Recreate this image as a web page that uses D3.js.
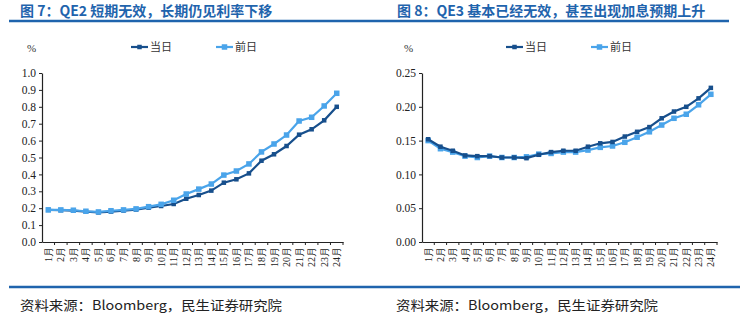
<!DOCTYPE html>
<html><head><meta charset="utf-8">
<script src="https://cdn.jsdelivr.net/npm/d3@7"></script>
<style>body{margin:0;background:#fff}svg{display:block}</style>
</head><body>
<script>
const months = ["1月","2月","3月","4月","5月","6月","7月","8月","9月","10月","11月","12月","13月","14月","15月","16月","17月","18月","19月","20月","21月","22月","23月","24月"];
const seriesNames = ["当日","前日"];
// Figure 7 (QE2)
const qe2Today = [0.19,0.188,0.186,0.18,0.175,0.18,0.186,0.192,0.203,0.213,0.225,0.256,0.278,0.304,0.351,0.371,0.406,0.481,0.519,0.568,0.635,0.667,0.72,0.80];
const qe2Prev  = [0.19,0.19,0.188,0.182,0.178,0.185,0.19,0.196,0.209,0.223,0.247,0.284,0.313,0.343,0.396,0.42,0.462,0.533,0.58,0.633,0.716,0.738,0.805,0.88];
const qe2Ticks = [0,0.1,0.2,0.3,0.4,0.5,0.6,0.7,0.8,0.9,1.0];
// Figure 8 (QE3)
const qe3Today = [0.152,0.141,0.135,0.128,0.127,0.127,0.125,0.125,0.124,0.129,0.133,0.135,0.135,0.141,0.146,0.148,0.156,0.163,0.170,0.183,0.193,0.200,0.2125,0.228];
const qe3Prev  = [0.150,0.138,0.133,0.127,0.125,0.127,0.125,0.125,0.126,0.130,0.131,0.133,0.133,0.136,0.140,0.142,0.1475,0.155,0.163,0.173,0.183,0.189,0.203,0.2185];
const qe3Ticks = [0,0.05,0.10,0.15,0.20,0.25];
const titles = ["图 7：QE2 短期无效，长期仍见利率下移","图 8：QE3 基本已经无效，甚至出现加息预期上升"];
const sourceText = "资料来源：Bloomberg，民生证券研究院";

const W = 745, H = 321;
const svg = d3.select("body").append("svg").attr("width", W).attr("height", H);
const blue = "#1f64ad", dark = "#174f8c", light = "#4aa4ea";
const serif = "'Liberation Serif','Times New Roman',serif";
const cjk = "'Noto Sans CJK SC',sans-serif";

function panel(cfg) {
  const g = svg.append("g");
  // title
  g.append("text").attr("x", cfg.titleX).attr("y", 16).text(cfg.title)
    .attr("font-family", cjk).attr("font-weight", "bold").attr("font-size", 14).attr("fill", blue);
  g.append("line").attr("x1", cfg.lineX1).attr("x2", cfg.lineX2).attr("y1", 21).attr("y2", 21)
    .attr("stroke", blue).attr("stroke-width", 2.5);
  g.append("line").attr("x1", cfg.lineX1).attr("x2", cfg.botX2).attr("y1", 287).attr("y2", 287)
    .attr("stroke", blue).attr("stroke-width", 2.5);
  g.append("text").attr("x", cfg.srcX).attr("y", 310).text(sourceText)
    .attr("font-family", cjk).attr("font-size", 13).attr("fill", "#222")
    .attr("textLength", 262).attr("lengthAdjust", "spacingAndGlyphs");

  const x = d3.scaleBand().domain(months).range([cfg.x0, cfg.x1]);
  const y = d3.scaleLinear().domain(cfg.yDomain).range([242, 73]);

  const yAxis = g.append("g").attr("transform", `translate(${cfg.x0},0)`)
    .call(d3.axisLeft(y).tickValues(cfg.ticks).tickFormat(d3.format(cfg.fmt)).tickSize(3).tickSizeOuter(0));
  yAxis.select(".domain").attr("stroke", "#222").attr("stroke-width", 1.2);
  yAxis.selectAll(".tick line").attr("stroke", "#222");
  yAxis.selectAll("text").attr("font-family", serif).attr("font-size", 11.5).attr("fill", "#222").attr("x", -6);

  const xAxis = g.append("g").attr("transform", `translate(0,242)`)
    .call(d3.axisBottom(x).tickSize(0));
  xAxis.select(".domain").attr("stroke", "#222").attr("stroke-width", 1.2);
  xAxis.selectAll(".tick line").remove();
  // ticks at band boundaries
  g.append("g").selectAll("line").data(months).join("line")
    .attr("x1", d => x(d) + x.bandwidth()).attr("x2", d => x(d) + x.bandwidth())
    .attr("y1", 242).attr("y2", 245).attr("stroke", "#222");
  xAxis.selectAll("text")
    .attr("font-family", serif).attr("font-size", 10).attr("fill", "#222")
    .attr("transform", "rotate(-90)").attr("text-anchor", "end")
    .attr("x", -5).attr("y", 0).attr("dy", "0.35em");

  g.append("text").attr("x", cfg.pctX).attr("y", 52).text("%")
    .attr("font-family", serif).attr("font-size", 11).attr("fill", "#333");

  const line = d3.line().x((d, i) => x(months[i]) + x.bandwidth() / 2).y(d => y(d));
  const series = [{v: cfg.today, c: dark, m: 4.5}, {v: cfg.prev, c: light, m: 5.5}];
  const order = cfg.darkOnTop ? [1, 0] : [0, 1];
  order.forEach(k => {
    const s = series[k];
    g.append("path").datum(s.v).attr("d", line).attr("fill", "none").attr("stroke", s.c).attr("stroke-width", 2.2);
    g.append("g").selectAll("rect").data(s.v).join("rect")
      .attr("x", (d, i) => x(months[i]) + x.bandwidth() / 2 - s.m / 2)
      .attr("y", d => y(d) - s.m / 2).attr("width", s.m).attr("height", s.m).attr("fill", s.c);
  });

  // legend
  seriesNames.forEach((n, k) => {
    const lx = cfg.legX[k], c = k === 0 ? dark : light, m = k === 0 ? 4.5 : 5.5;
    g.append("line").attr("x1", lx).attr("x2", lx + 17).attr("y1", 47).attr("y2", 47).attr("stroke", c).attr("stroke-width", 2.2);
    g.append("rect").attr("x", lx + 8.5 - m / 2).attr("y", 47 - m / 2).attr("width", m).attr("height", m).attr("fill", c);
    g.append("text").attr("x", lx + 19).attr("y", 51).text(n)
      .attr("font-family", cjk).attr("font-size", 11).attr("fill", "#333");
  });
}

panel({title: titles[0], titleX: 20, lineX1: 9, lineX2: 372, botX2: 372, srcX: 20,
  x0: 42, x1: 343, yDomain: [0, 1.0], ticks: qe2Ticks, fmt: ".1f", pctX: 27,
  today: qe2Today, prev: qe2Prev, legX: [131, 216], darkOnTop: false});
panel({title: titles[1], titleX: 397, lineX1: 372, lineX2: 729, botX2: 740, srcX: 396,
  x0: 422, x1: 717, yDomain: [0, 0.25], ticks: qe3Ticks, fmt: ".2f", pctX: 404,
  today: qe3Today, prev: qe3Prev, legX: [506, 591], darkOnTop: true});
</script>
</body></html>
